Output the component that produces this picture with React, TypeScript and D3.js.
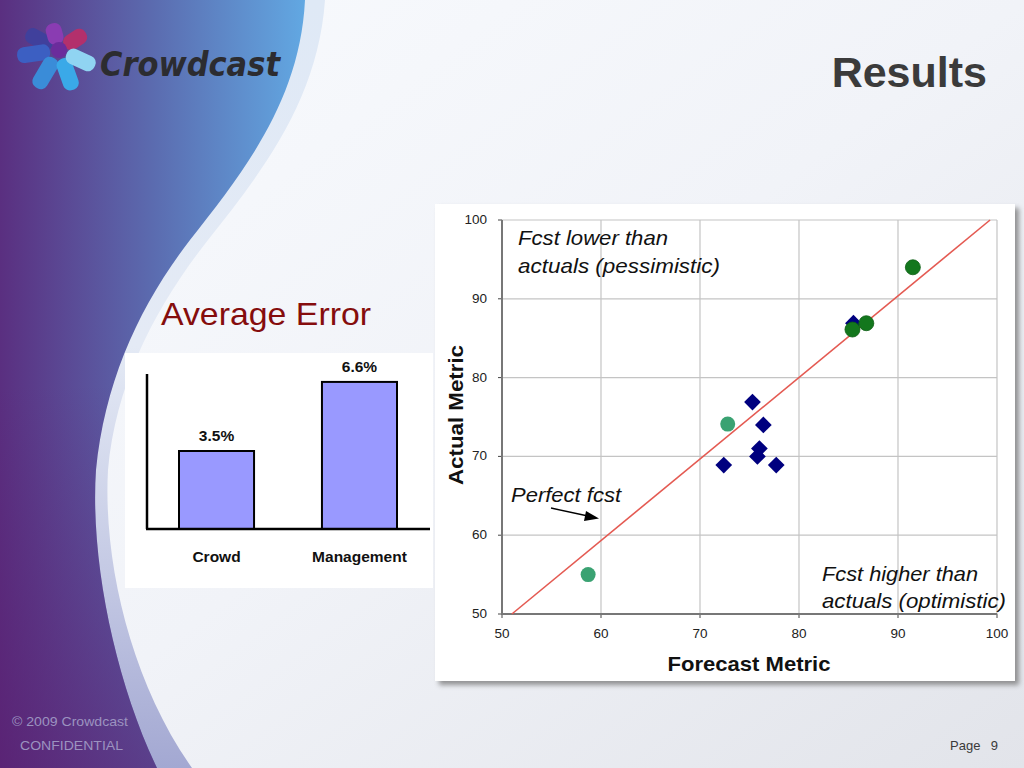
import * as d3 from "d3"

// bar chart values
const categories = ["Crowd", "Management"]
const averageError = [3.5, 6.6]
const errorLabels = ["3.5%", "6.6%"]

// scatter axes
const axisTicks = [50, 60, 70, 80, 90, 100]

// scatter series (forecast, actual)
const diamondForecast = [75.3, 76.4, 76.0, 75.8, 72.4, 77.7, 85.5]
const diamondActual = [76.9, 74.0, 71.0, 70.0, 68.9, 68.9, 86.9]

const darkGreenForecast = [91.5, 86.8, 85.4]
const darkGreenActual = [94.0, 86.9, 86.1]

const lightGreenForecast = [72.8, 58.7]
const lightGreenActual = [74.1, 55.0]

// perfect forecast reference line
const perfectForecast = [51, 99.3]
const perfectActual = [50, 100]

const FONT = "'Liberation Sans', Arial, sans-serif"

// logo petals: tip position and colour
const petalTips = [
  [27, 33], [52, 24], [85, 33], [18, 56], [37, 87], [73, 89], [94, 66],
]
const petalColors = ["#40409c", "#8a3cb2", "#b3306c", "#3c5fc2", "#3a8cd8", "#3aa9e8", "#90d4f2"]

export default function App() {
  // scatter scales
  const x = d3.scaleLinear().domain([50, 100]).range([502, 997])
  const y = d3.scaleLinear().domain([50, 100]).range([614, 220])

  // bar scales
  const xb = d3.scaleBand().domain(categories).range([179, 397]).paddingInner(0.475).paddingOuter(0)
  const yb = d3.scaleLinear().domain([0, 7]).range([529, 373])

  const line = d3
    .line<number>()
    .x((d) => x(d))
    .y((_, i) => y(perfectActual[i]))

  const diamond = d3.symbol().type(d3.symbolSquare).size(140)()

  const lc = [59, 50]

  return (
    <div style={{ position: "absolute", left: 0, top: 0, width: 1024, height: 768 }}>
      <svg width={1024} height={768} style={{ display: "block" }}>
        <defs>
          <linearGradient id="bg" x1="0" y1="0" x2="1" y2="1">
            <stop offset="0" stopColor="#f9fbfe" />
            <stop offset="0.5" stopColor="#f1f3f8" />
            <stop offset="1" stopColor="#e2e4ea" />
          </linearGradient>
          <linearGradient id="swoosh" gradientUnits="userSpaceOnUse" x1="0" y1="0" x2="310" y2="0">
            <stop offset="0" stopColor="#5a2f80" />
            <stop offset="0.5" stopColor="#5b6cb0" />
            <stop offset="1" stopColor="#62aae4" />
          </linearGradient>
          <linearGradient id="purpleFade" x1="0" y1="0" x2="0" y2="1">
            <stop offset="0" stopColor="#5a1a6c" stopOpacity="0" />
            <stop offset="0.5" stopColor="#5a1a6c" stopOpacity="0" />
            <stop offset="1" stopColor="#5a1a6c" stopOpacity="0.55" />
          </linearGradient>
          <linearGradient id="band" x1="0" y1="0" x2="0" y2="1">
            <stop offset="0" stopColor="#dfe9f6" />
            <stop offset="0.45" stopColor="#e4eaf5" />
            <stop offset="0.75" stopColor="#c4c9e4" />
            <stop offset="1" stopColor="#a3a8d2" />
          </linearGradient>
          <filter id="blur" x="-5%" y="-5%" width="110%" height="110%">
            <feGaussianBlur stdDeviation="2.5" />
          </filter>
        </defs>

        {/* slide background */}
        <rect x={0} y={0} width={1024} height={768} fill="url(#bg)" />
        <path
          d="M0,0 L325,0 C318,100 262,172 208,240 C156,306 116,382 108,470 C103,560 130,680 192,768 L0,768 Z"
          fill="url(#band)"
        />
        <path
          d="M0,0 L305,0 C300,100 245,170 190,240 C140,305 105,380 96,470 C90,560 115,680 157,768 L0,768 Z"
          fill="url(#swoosh)"
        />
        <path
          d="M0,0 L305,0 C300,100 245,170 190,240 C140,305 105,380 96,470 C90,560 115,680 157,768 L0,768 Z"
          fill="url(#purpleFade)"
        />

        {/* logo */}
        <g>
          {petalTips.map((t, i) => {
            const dx = t[0] - lc[0]
            const dy = t[1] - lc[1]
            const len = Math.sqrt(dx * dx + dy * dy)
            const ang = (Math.atan2(dy, dx) * 180) / Math.PI
            const cx = lc[0] + dx * 0.62
            const cy = lc[1] + dy * 0.62
            return (
              <rect
                key={i}
                x={cx - len * 0.4}
                y={cy - 8}
                width={len * 0.8}
                height={16}
                rx={7}
                fill={petalColors[i]}
                transform={`rotate(${ang},${cx},${cy})`}
              />
            )
          })}
          <circle cx={lc[0]} cy={lc[1]} r={8} fill="#6b2c9c" />
          <text
            x={100}
            y={76}
            fontFamily="'DejaVu Sans', sans-serif"
            fontWeight="bold"
            fontStyle="italic"
            fontSize={33}
            fill="#2c2c30"
            textLength={180}
            lengthAdjust="spacingAndGlyphs"
          >
            Crowdcast
          </text>
        </g>

        <text x={987} y={87} textAnchor="end" fontFamily={FONT} fontWeight="bold" fontSize={43} fill="#3b3b3b">
          Results
        </text>

        <text x={161} y={325} fontFamily={FONT} fontSize={32} fill="#850d0d" textLength={210} lengthAdjust="spacingAndGlyphs">
          Average Error
        </text>

        {/* bar chart panel */}
        <rect x={125} y={353} width={308} height={235} fill="#ffffff" />
        {categories.map((c, i) => (
          <g key={c}>
            <rect
              x={xb(c)}
              y={yb(averageError[i])}
              width={xb.bandwidth()}
              height={yb(0) - yb(averageError[i])}
              fill="#9999ff"
              stroke="#000"
              strokeWidth={2}
            />
            <text
              x={(xb(c) as number) + xb.bandwidth() / 2}
              y={yb(averageError[i]) - 10}
              textAnchor="middle"
              fontFamily={FONT}
              fontWeight="bold"
              fontSize={15.5}
              fill="#111"
            >
              {errorLabels[i]}
            </text>
            <text
              x={(xb(c) as number) + xb.bandwidth() / 2}
              y={562}
              textAnchor="middle"
              fontFamily={FONT}
              fontWeight="bold"
              fontSize={15.5}
              fill="#111"
            >
              {c}
            </text>
          </g>
        ))}
        <line x1={147} x2={147} y1={374} y2={yb(0)} stroke="#000" strokeWidth={2.5} />
        <line x1={146} x2={430} y1={yb(0)} y2={yb(0)} stroke="#000" strokeWidth={2.5} />

        {/* scatter panel */}
        <rect x={439} y={208} width={580} height={477} fill="#7a7a7a" opacity={0.8} filter="url(#blur)" />
        <rect x={435} y={204} width={580} height={477} fill="#ffffff" />

        {axisTicks.map((t) => (
          <g key={"g" + t}>
            <line x1={x(t)} x2={x(t)} y1={y(50)} y2={y(100)} stroke="#c4c4c4" strokeWidth={1.2} />
            <line x1={x(50)} x2={x(100)} y1={y(t)} y2={y(t)} stroke="#c4c4c4" strokeWidth={1.2} />
            <line x1={x(t)} x2={x(t)} y1={y(50)} y2={y(50) + 4} stroke="#444" strokeWidth={1} />
            <line x1={x(50) - 4} x2={x(50)} y1={y(t)} y2={y(t)} stroke="#444" strokeWidth={1} />
            <text x={x(t)} y={638} textAnchor="middle" fontFamily={FONT} fontSize={13.5} fill="#222">
              {t}
            </text>
            <text x={487} y={y(t) + 4} textAnchor="end" fontFamily={FONT} fontSize={13.5} fill="#222">
              {t}
            </text>
          </g>
        ))}
        <line x1={x(50)} x2={x(50)} y1={y(100)} y2={y(50)} stroke="#777" strokeWidth={2} />
        <line x1={x(50)} x2={x(100)} y1={y(50)} y2={y(50)} stroke="#777" strokeWidth={2} />

        <path d={line(perfectForecast) ?? ""} fill="none" stroke="#e45a52" strokeWidth={1.6} />

        {diamondForecast.map((f, i) => (
          <path key={"d" + i} d={diamond ?? ""} transform={`translate(${x(f)},${y(diamondActual[i])}) rotate(45)`} fill="#00007f" />
        ))}
        {lightGreenForecast.map((f, i) => (
          <circle key={"l" + i} cx={x(f)} cy={y(lightGreenActual[i])} r={7.5} fill="#3aa272" />
        ))}
        {darkGreenForecast.map((f, i) => (
          <circle key={"g" + i} cx={x(f)} cy={y(darkGreenActual[i])} r={7.5} fill="#13771d" stroke="#0d5e14" strokeWidth={0.8} />
        ))}

        {/* annotations */}
        <g fontFamily={FONT} fontStyle="italic" fontSize={21} fill="#111">
          <text x={518} y={245} textLength={150} lengthAdjust="spacingAndGlyphs">Fcst lower than</text>
          <text x={518} y={273} textLength={202} lengthAdjust="spacingAndGlyphs">actuals (pessimistic)</text>
          <text x={511} y={502} textLength={110} lengthAdjust="spacingAndGlyphs">Perfect fcst</text>
          <text x={822} y={581} textLength={156} lengthAdjust="spacingAndGlyphs">Fcst higher than</text>
          <text x={822} y={608} textLength={184} lengthAdjust="spacingAndGlyphs">actuals (optimistic)</text>
        </g>
        <line x1={551} y1={508} x2={588} y2={516} stroke="#000" strokeWidth={1.3} />
        <path d="M599,518.5 L586,511 L584,521 Z" fill="#000" />

        <text x={749} y={671} textAnchor="middle" fontFamily={FONT} fontWeight="bold" fontSize={21} fill="#111" textLength={163} lengthAdjust="spacingAndGlyphs">
          Forecast Metric
        </text>
        <text
          transform="translate(463,415) rotate(-90)"
          textAnchor="middle"
          fontFamily={FONT}
          fontWeight="bold"
          fontSize={21}
          fill="#111"
          textLength={140}
          lengthAdjust="spacingAndGlyphs"
        >
          Actual Metric
        </text>

        {/* footer */}
        <text x={12} y={726} fontFamily={FONT} fontSize={13.5} fill="#9c93c0" textLength={116} lengthAdjust="spacingAndGlyphs">
          © 2009 Crowdcast
        </text>
        <text x={20} y={750} fontFamily={FONT} fontSize={13.5} fill="#9c93c0" textLength={103} lengthAdjust="spacingAndGlyphs">
          CONFIDENTIAL
        </text>
        <text x={950} y={750} fontFamily={FONT} fontSize={13} fill="#3a3a3a">
          Page
        </text>
        <text x={998} y={750} textAnchor="end" fontFamily={FONT} fontSize={13} fill="#3a3a3a">
          9
        </text>
      </svg>
    </div>
  )
}
